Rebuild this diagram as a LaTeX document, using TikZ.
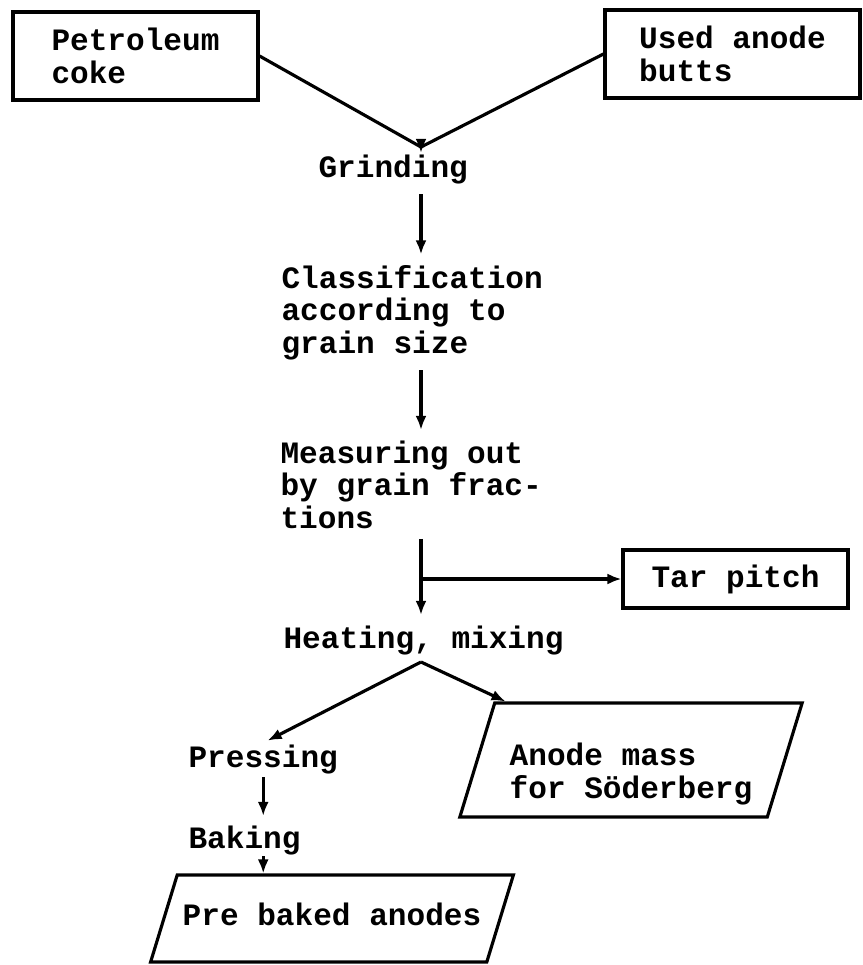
\documentclass[tikz,border=0pt]{standalone}
\usepackage{fontspec}
\setmonofont{Liberation Mono}
\usetikzlibrary{arrows.meta,shapes.geometric,calc}

\begin{document}
\begin{tikzpicture}[x=0.02cm,y=-0.02cm,line width=1.8pt,
  every node/.style={font=\ttfamily\bfseries\fontsize{17.7}{18.5}\selectfont},
  txt/.style={anchor=base west,inner sep=0,align=left},
  box/.style={draw,align=left,inner sep=0},
  slant/.style={draw,trapezium,trapezium left angle=73,trapezium right angle=107,align=left},
  >={Latex[length=0.28cm,width=0.22cm]}]
\useasboundingbox (0,0) rectangle (863,965);

% raw materials
\node[box,minimum width=4.9cm,minimum height=1.76cm] (pet) at (135.5,56) {Petroleum\\coke};
\node[box,minimum width=5.1cm,minimum height=1.76cm] (used) at (732.5,54) {Used anode\\butts};

% main line (multi-line nodes sit on their last line)
\coordinate (spine) at (421,0);
\node[txt] (grind) at (317,177) {Grinding};
\node[txt] (class) at (280,353) {Classification\\according to\\grain size};
\node[txt] (meas) at (279,528) {Measuring out\\by grain frac-\\tions};
\node[txt] (heat) at (282,648) {Heating, mixing};
\node[box,minimum width=4.5cm,minimum height=1.16cm] (tar) at (735.5,579) {Tar pitch};

% products
\node[txt] (press) at (187,767) {Pressing};
\node[txt] (bake) at (187,848) {Baking};
\node[slant,inner xsep=0.11cm,inner ysep=0.61cm,text height=0.4cm,text depth=0.12cm] (pre) at (332,918.5) {Pre baked anodes};
\node[slant,inner xsep=0.3cm,inner ysep=0.26cm,text height=1.64cm,text depth=0.12cm] (mass) at (631,760) {Anode mass\\for Söderberg};

\coordinate (top) at (421,147);
\draw (pet.east) -- (top) -- (used.west);
\draw[->] (top) -- (grind.north -| spine);
\foreach \a/\b in {grind/class,class/meas,meas/heat}
  \draw[->,shorten <=0.18cm,shorten >=0.18cm] (\a.south -| spine) -- (\b.north -| spine);
\draw[->] (tar.west -| spine) -- (tar.west);

\coordinate (fork) at (421,662);
\draw[->,shorten >=0.1cm] (fork) -- (press.north);
\draw[->] (fork) -- ($(mass.top left corner)+(12,0)$);
\draw[->,shorten <=0.04cm,shorten >=0.16cm] (press.south) -- (bake.north -| press.south);
\draw[->] (bake.south -| press.south) -- (pre.north -| press.south);

\end{tikzpicture}
\end{document}
